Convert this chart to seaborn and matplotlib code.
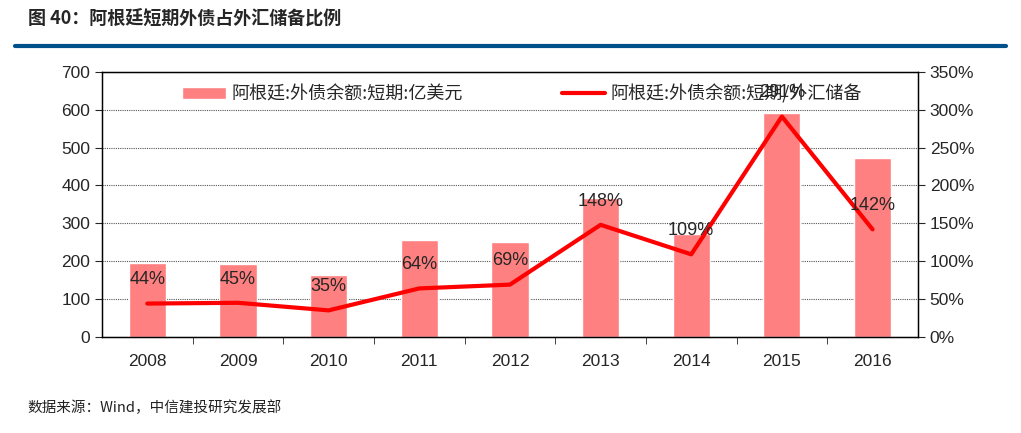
import matplotlib
matplotlib.use('Agg')
import matplotlib.pyplot as plt
import seaborn as sns
import numpy as np
import pandas as pd
from matplotlib.ticker import FuncFormatter, MultipleLocator, FixedLocator

years = ['2008', '2009', '2010', '2011', '2012', '2013', '2014', '2015', '2016']
debt = [195, 193, 164, 256, 251, 368, 272, 592, 472]
ratio = [44, 45, 35, 64, 69, 148, 109, 291, 142]
bar_label = '阿根廷:外债余额:短期:亿美元'
line_label = '阿根廷:外债余额:短期/外汇储备'

sns.set_style('white')
plt.rcParams['font.family'] = ['Liberation Sans Narrow', 'Liberation Sans', 'Noto Sans CJK SC', 'DejaVu Sans']
plt.rcParams['axes.unicode_minus'] = False
cjk = ['Noto Sans CJK SC', 'DejaVu Sans']

df = pd.DataFrame({'year': years, 'debt': debt, 'ratio': ratio})
df['pos'] = np.arange(len(years))

fig = plt.figure(figsize=(10.21, 4.33), dpi=100)
ax = fig.add_axes([0.0999, 0.222, 0.7991, 0.612])

sns.barplot(x='year', y='debt', data=df, color='#FF8080', saturation=1,
            width=0.41, ax=ax, label=bar_label)
ax.set_xlim(-0.5, len(years) - 0.5)
ax.set_ylim(0, 700)
ax.yaxis.set_major_locator(MultipleLocator(100))
ax.set_xlabel('')
ax.set_ylabel('')
ax.grid(axis='y', color='#555555', linestyle=(0, (1, 1)), linewidth=0.8)
ax.set_axisbelow(True)
for s in ax.spines.values():
    s.set_color('black')
    s.set_linewidth(1)

ax.xaxis.set_minor_locator(FixedLocator(np.arange(0.5, len(years) - 1, 1)))
ax.tick_params(axis='x', which='major', length=0, labelsize=12.5, pad=12)
ax.tick_params(axis='x', which='minor', length=5, direction='out', bottom=True)
ax.tick_params(axis='y', length=5, direction='out', labelsize=12.5, left=True)

ax2 = ax.twinx()
sns.lineplot(x='pos', y='ratio', data=df, color='#FF0000', linewidth=3,
             ax=ax2, label=line_label)
ax2.set_ylim(0, 350)
ax2.yaxis.set_major_locator(MultipleLocator(50))
ax2.yaxis.set_major_formatter(FuncFormatter(lambda v, p: f'{int(v)}%'))
ax2.set_ylabel('')
ax2.set_xlabel('')
ax2.set_xlim(-0.5, len(years) - 0.5)
ax2.tick_params(axis='y', length=5, direction='out', labelsize=12.5, right=True)
for s in ax2.spines.values():
    s.set_color('black')

for xp, r in zip(df['pos'], df['ratio']):
    ax2.annotate(f'{r}%', (xp, r), xytext=(0, 11), textcoords='offset points',
                 ha='center', va='bottom', fontsize=13)

# one legend with both series, drawn on the top axis
h1, l1 = ax.get_legend_handles_labels()
h2, l2 = ax2.get_legend_handles_labels()
for a in (ax, ax2):
    if a.get_legend():
        a.get_legend().remove()
leg = ax2.legend(h1 + h2, l1 + l2, loc='upper center', ncol=2, frameon=False,
                 columnspacing=5.5, handlelength=2.4, handletextpad=0.3,
                 bbox_to_anchor=(0.515, 1.015),
                 prop={'family': cjk, 'size': 13})
ax2.patch.set_visible(False)

fig.text(0.027, 0.955, '图 40：阿根廷短期外债占外汇储备比例', fontsize=13,
         fontweight='bold', family=cjk, va='center')
fig.add_artist(plt.Line2D([0.015, 0.985], [0.893, 0.893], color='#00508C',
                          linewidth=3, transform=fig.transFigure))
fig.text(0.027, 0.058, '数据来源：Wind，中信建投研究发展部', fontsize=10.5,
         style='italic', family=cjk, va='center', color='#222222')

fig.savefig('out.png', dpi=100)
